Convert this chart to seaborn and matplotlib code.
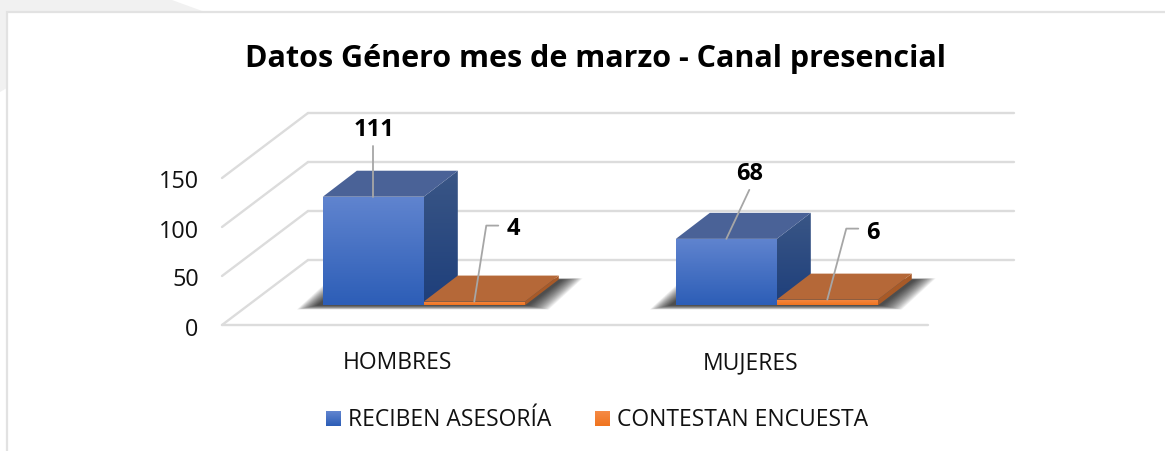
"""Fake 3D clustered bars: Datos Genero mes de marzo - Canal presencial."""

import numpy as np
import pandas as pd
import matplotlib.pyplot as plt
import seaborn as sns
from matplotlib.colors import to_rgb
from matplotlib.patches import Polygon, Rectangle
from matplotlib.transforms import ScaledTranslation

categorias = ["HOMBRES", "MUJERES"]
series = ["RECIBEN ASESORÍA", "CONTESTAN ENCUESTA"]
reciben = [111, 68]
contestan = [4, 6]
y_ticks = [0, 50, 100, 150]

W, H, DPI = 1165, 451, 100
PX_X = 353.0   # pixels per category
PX_Y = 0.98    # pixels per unit of value


def px(dx, dy):
    """Pixel lengths to data lengths."""
    return dx / PX_X, dy / PX_Y


DEPTH = px(34, 26)
WALL_BACK = px(60.7, 45.5)
WALL_FRONT = px(-25.3, -19.5)

sns.set_theme(style="white")
plt.rcParams["font.family"] = ["Open Sans", "DejaVu Sans"]

df = pd.DataFrame({
    "categoria": categorias * 2,
    "serie": [series[0]] * 2 + [series[1]] * 2,
    "valor": reciben + contestan,
})

fig = plt.figure(figsize=(W / DPI, H / DPI), dpi=DPI, facecolor="white")

# page behind the card
bg = fig.add_axes([0, 0, 1, 1], zorder=-5)
bg.set_xlim(0, W)
bg.set_ylim(H, 0)
bg.axis("off")
bg.add_patch(Polygon([(0, 0), (172, 0), (205, 12), (7, 12), (7, 88), (0, 92)], color="#F1F1F1", lw=0))
bg.add_patch(Rectangle((7, 12), W, H, fc="white", ec="#E2E2E2", lw=1.6))

ax = fig.add_axes([247.3 / W, (H - 305.5) / H, 706 / W, 147 / H])
ax.patch.set_alpha(0)
sns.barplot(data=df, x="categoria", y="valor", hue="serie", order=categorias,
            hue_order=series, palette=["#3F6CC4", "#F27B2C"], width=0.572,
            gap=0, saturation=1, ax=ax)
ax.set_xlim(-0.5, 1.5)
ax.set_ylim(0, 150)
ax.set_xlabel("")
ax.set_ylabel("")
sns.despine(ax=ax, left=True, bottom=True)
ax.set_yticks(y_ticks)
ax.tick_params(axis="y", length=0, pad=35, labelsize=16.8, labelcolor="#111111")
ax.tick_params(axis="x", length=0, pad=46, labelsize=16.5, labelcolor="#111111")

# axis labels sit on the front edge of the floor, not on the bar plane
for lab in ax.get_yticklabels():
    lab.set_transform(lab.get_transform() + ScaledTranslation(0, -21 / DPI, fig.dpi_scale_trans))
for lab in ax.get_xticklabels():
    lab.set_transform(lab.get_transform() + ScaledTranslation(-26 / DPI, 0, fig.dpi_scale_trans))
    lab.set_verticalalignment("baseline")

# walls and floor
grid_kw = dict(color="#DCDCDC", lw=1.7, zorder=1, clip_on=False, solid_capstyle="round")
x0, x1 = ax.get_xlim()
for v in y_ticks:
    xb = x0 + WALL_BACK[0]
    xf = x0 + WALL_FRONT[0]
    yb = v + WALL_BACK[1]
    yf = v + WALL_FRONT[1]
    ax.plot([xf, xb], [yf, yb], **grid_kw)
    ax.plot([xb, x1 + WALL_BACK[0]], [yb, yb], **grid_kw)
ax.plot([x0 + WALL_FRONT[0], x1 + WALL_FRONT[0]], [WALL_FRONT[1]] * 2, **grid_kw)


def gradient(pts, c_top, c_bottom, zorder):
    """Fill a polygon with a vertical gradient."""
    pts = np.array(pts)
    rows = np.linspace(to_rgb(c_top), to_rgb(c_bottom), 64)[:, None, :]
    im = ax.imshow(rows, extent=[pts[:, 0].min(), pts[:, 0].max(), pts[:, 1].min(), pts[:, 1].max()],
                   aspect="auto", origin="upper", zorder=zorder, clip_on=True)
    clip = Polygon(pts, transform=ax.transData)
    im.set_clip_path(clip)
    return im


def shadow(x_left, x_right):
    """Soft shadow on the floor behind one group of bars."""
    base_l, _ = px(6, 0)
    base_r, _ = px(4, 0)
    for grow in np.linspace(20, 0, 21):
        gx, gy = px(grow, grow * 0.2)
        low = -gy
        high = DEPTH[1] + gy * 0.3
        pts = [(x_left - base_l - gx, low), (x_right + base_r + gx, low),
               (x_right + base_r + DEPTH[0] + gx, high),
               (x_left - base_l + DEPTH[0] - gx, high)]
        ax.add_patch(Polygon(pts, fc="#000000", alpha=0.05, lw=0, zorder=2, clip_on=False))


styles = [
    dict(front=("#6084CF", "#2D5EB7"), top="#4A6297", side=("#3A5686", "#1E3F7B")),
    dict(front=("#F58A45", "#F0741F"), top="#B56838", side=("#A85A28", "#A85A28")),
]

for i in range(len(categorias)):
    left = ax.containers[0][i].get_x()
    right = ax.containers[1][i].get_x() + ax.containers[1][i].get_width()
    shadow(left, right)

z = 3
for s, cont in enumerate(ax.containers):
    for bar in cont:
        bar.set_visible(False)
        xa, w, h = bar.get_x(), bar.get_width(), bar.get_height()
        xb = xa + w
        st = styles[s]
        side = [(xb, 0), (xb + DEPTH[0], DEPTH[1]), (xb + DEPTH[0], h + DEPTH[1]), (xb, h)]
        gradient(side, st["side"][0], st["side"][1], z)
        ax.add_patch(Polygon([(xa, h), (xb, h), (xb + DEPTH[0], h + DEPTH[1]), (xa + DEPTH[0], h + DEPTH[1])],
                             fc=st["top"], lw=0, zorder=z + 0.1, clip_on=False))
        gradient([(xa, 0), (xb, 0), (xb, h), (xa, h)], st["front"][0], st["front"][1], z + 0.2)
        z += 1
ax.set_xlim(-0.5, 1.5)
ax.set_ylim(0, 150)

# data labels with leader lines, offsets in pixels from the bar's top centre
leaders = {
    (0, 0): [(0, 0), (0, 51)],
    (0, 1): [(0, 0), (12, 76), (24, 76)],
    (1, 0): [(0, 0), (23, 49)],
    (1, 1): [(0, 0), (19, 71), (31, 71)],
}
label_off = {(0, 0): (0.5, 67), (0, 1): (39, 73), (1, 0): (23, 65), (1, 1): (46, 67)}
for s, cont in enumerate(ax.containers):
    for i, bar in enumerate(cont):
        cx = bar.get_x() + bar.get_width() / 2
        cy = bar.get_height()
        path = [px(*p) for p in leaders[(i, s)]]
        ax.plot([cx + p[0] for p in path], [cy + p[1] for p in path], color="#A6A6A6",
                lw=1.3, zorder=20, clip_on=False)
        ax.annotate(f"{bar.get_height():.0f}", (cx, cy), xytext=label_off[(i, s)],
                    textcoords="offset pixels", ha="center", va="center", fontsize=17,
                    fontweight="bold", color="black", zorder=21, annotation_clip=False)

fig.text(595.5 / W, 1 - 59 / H, "Datos Género mes de marzo - Canal presencial", ha="center",
         va="center", fontsize=22, fontweight="bold", color="black")

sns.move_legend(ax, loc="center left", bbox_to_anchor=(326 / W, 1 - 420 / H),
                bbox_transform=fig.transFigure, ncol=2, title=None, frameon=False,
                fontsize=16.5, labelcolor="#111111", handlelength=0.66, handleheight=0.66,
                handletextpad=0.3, columnspacing=1.9, borderpad=0, borderaxespad=0)

# gradient on the legend squares
fig.canvas.draw()
legend = ax.get_legend()
for patch, st in zip(legend.get_patches(), styles):
    ext = patch.get_window_extent()
    n_h, n_w = int(round(ext.height)), int(round(ext.width))
    img = np.linspace(to_rgb(st["front"][0]), to_rgb(st["front"][1]), n_h)[:, None, :]
    img = np.repeat(img, n_w, axis=1)
    fig.figimage(img, xo=int(round(ext.x0)), yo=int(round(ext.y0)), origin="upper", zorder=10)

fig.savefig("out.png", dpi=DPI)
